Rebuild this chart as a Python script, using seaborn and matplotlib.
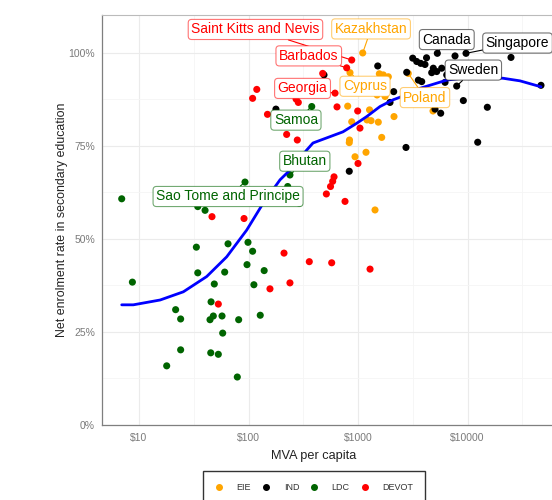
import numpy as np
import pandas as pd
import matplotlib
matplotlib.use("Agg")
import matplotlib.pyplot as plt
import seaborn as sns
from matplotlib.ticker import FixedLocator, FuncFormatter, PercentFormatter, NullFormatter
from matplotlib.lines import Line2D
from matplotlib.colors import to_rgba

# ---------------- data ----------------
groups = ["EIE", "IND", "LDC", "DEVOT"]
group_colors = ["#FFA500", "#000000", "#006400", "#FF0000"]

eie_mva = [1104, 845, 1566, 1702, 1892, 1766, 1492, 805, 1274, 876, 1208, 1315,
           1532, 2132, 1646, 836, 832, 1183, 939, 1430, 4840, 2878]
eie_enrol = [1.000, 0.947, 0.944, 0.941, 0.936, 0.883, 0.887, 0.857, 0.847, 0.815, 0.820, 0.818,
             0.814, 0.829, 0.773, 0.766, 0.759, 0.733, 0.721, 0.578, 0.844, 0.945]

ind_mva = [5300, 7690, 9690, 24950, 3160, 3436, 3740, 4090, 4225, 4870, 5230, 4710,
           5810, 2785, 3556, 3818, 6235, 7965, 9160, 15170, 5050, 5690, 12390, 2743,
           46900, 1514, 2118, 1960, 832, 489, 178, 6457]
ind_enrol = [0.999, 0.992, 0.999, 0.988, 0.986, 0.977, 0.972, 0.969, 0.987, 0.959, 0.950, 0.947,
             0.959, 0.948, 0.927, 0.923, 0.921, 0.911, 0.872, 0.854, 0.849, 0.838, 0.760, 0.746,
             0.913, 0.965, 0.896, 0.867, 0.682, 0.941, 0.849, 0.941]

ldc_mva = [6.95, 8.7, 92.9, 34.4, 40.1, 33.4, 65.0, 98.9, 109, 34.4, 60.6, 96.9,
           139, 48.7, 112, 45.5, 21.6, 24.0, 44.5, 47.7, 57.3, 81.3, 128, 58.1,
           24.0, 17.9, 45.2, 53.0, 79.0, 239, 228, 291, 378]
ldc_enrol = [0.608, 0.384, 0.653, 0.587, 0.577, 0.478, 0.487, 0.491, 0.467, 0.409, 0.411, 0.431,
             0.415, 0.379, 0.377, 0.331, 0.310, 0.285, 0.283, 0.293, 0.293, 0.283, 0.295, 0.247,
             0.202, 0.159, 0.194, 0.190, 0.129, 0.672, 0.641, 0.596, 0.856]

devot_mva = [876, 788, 476, 617, 119, 109, 272, 285, 149, 643, 993, 1042,
             223, 279, 1000, 604, 587, 561, 514, 761, 46.4, 91, 211, 359,
             575, 1288, 157, 239, 53]
devot_enrol = [0.981, 0.960, 0.945, 0.892, 0.902, 0.878, 0.876, 0.867, 0.835, 0.855, 0.844, 0.798,
               0.781, 0.766, 0.703, 0.667, 0.655, 0.641, 0.621, 0.601, 0.560, 0.555, 0.462, 0.439,
               0.436, 0.419, 0.366, 0.382, 0.325]

# smoothed trend
curve_mva = [6.95, 8.87, 15.6, 25.4, 41.5, 63.2, 96.3, 136, 194, 239, 340, 388,
             555, 729, 973, 1200, 1588, 2089, 2420, 3683, 6457, 10540, 21090, 30150, 46900]
curve_enrol = [0.323, 0.323, 0.336, 0.358, 0.399, 0.452, 0.524, 0.596, 0.659, 0.685, 0.739, 0.758,
               0.775, 0.788, 0.811, 0.829, 0.856, 0.874, 0.881, 0.905, 0.927, 0.935, 0.932, 0.925, 0.909]

label_country = ["Saint Kitts and Nevis", "Kazakhstan", "Canada", "Singapore", "Barbados",
                 "Sweden", "Georgia", "Cyprus", "Poland", "Samoa", "Bhutan",
                 "Sao Tome and Principe"]
label_group = ["DEVOT", "EIE", "IND", "IND", "DEVOT", "IND", "DEVOT", "EIE", "EIE",
               "LDC", "LDC", "LDC"]
label_mva = [876, 1104, 5300, 9690, 788, 7965, 617, 845, 2878, 378, 239, 92.9]
label_enrol = [0.981, 1.000, 0.999, 0.999, 0.960, 0.911, 0.892, 0.947, 0.945, 0.856, 0.672, 0.653]

x_tick_values = [10, 100, 1000, 10000]
y_tick_values = [0, 0.25, 0.5, 0.75, 1.0]

# ---------------- layout / style ----------------
label_offsets = [(-69.3, 22), (6, 17.3), (6.8, 9.9), (37.1, 7.4), (-27.3, 8.6),
                 (12, 11.5), (-23.4, 3.4), (10.8, -9.8), (12, -17.4), (-11.4, -9.8),
                 (10.7, 9.9), (-12.2, -10.4)]

df = pd.DataFrame({
    "mva": eie_mva + ind_mva + ldc_mva + devot_mva,
    "enrol": eie_enrol + ind_enrol + ldc_enrol + devot_enrol,
    "group": (["EIE"] * len(eie_mva) + ["IND"] * len(ind_mva)
              + ["LDC"] * len(ldc_mva) + ["DEVOT"] * len(devot_mva)),
})
cmap = dict(zip(groups, group_colors))

sns.set_theme(style="white")
plt.rcParams["font.family"] = ["Liberation Sans", "DejaVu Sans"]

fig = plt.figure(figsize=(5.52, 5.0), dpi=100)
ax = fig.add_axes([102 / 552, 75 / 500, 453 / 552, 410 / 500])
ax.set_xscale("log")

sns.scatterplot(data=df, x="mva", y="enrol", hue="group", hue_order=groups,
                palette=group_colors, s=26, linewidth=0, ax=ax, legend=False, zorder=3)
sns.lineplot(x=curve_mva, y=curve_enrol, color="#0000FF", lw=2, ax=ax,
             sort=False, estimator=None, zorder=4)

ax.set_xlim(10 ** 0.662, 10 ** 4.799)
ax.set_ylim(0, 1.102)

ax.xaxis.set_major_locator(FixedLocator(x_tick_values))
ax.xaxis.set_major_formatter(FuncFormatter(lambda v, p: f"${v:.0f}"))
ax.xaxis.set_minor_locator(FixedLocator([10 ** (k + 0.5) for k in range(0, 5)]))
ax.xaxis.set_minor_formatter(NullFormatter())
ax.yaxis.set_major_locator(FixedLocator(y_tick_values))
ax.yaxis.set_major_formatter(PercentFormatter(1.0, decimals=0))
ax.yaxis.set_minor_locator(FixedLocator([0.125, 0.375, 0.625, 0.875]))

ax.set_axisbelow(True)
ax.grid(which="major", color="#EBEBEB", lw=0.8)
ax.grid(which="minor", color="#F5F5F5", lw=0.6)

ax.tick_params(axis="both", which="major", length=3, width=0.8, color="#888888",
               labelcolor="#7A7A7A", labelsize=7.5, direction="out", pad=2)
ax.tick_params(axis="both", which="minor", length=0)
ax.tick_params(axis="x", which="major", pad=3)
for side in ["left", "bottom"]:
    ax.spines[side].set_color("#7F7F7F")
    ax.spines[side].set_linewidth(0.9)
ax.spines["top"].set_color("#BBBBBB")
ax.spines["top"].set_linewidth(0.8)
ax.spines["right"].set_visible(False)

ax.set_xlabel("MVA per capita", fontsize=9.2, color="#222222")
ax.set_ylabel("Net enrolment rate in secondary education", fontsize=8.9, color="#222222")
ax.xaxis.set_label_coords((313.5 - 102) / 453, -0.062)
ax.yaxis.set_label_coords(-(102 - 68) / 453, 0.5)

for name, grp, xv, yv, off in zip(label_country, label_group, label_mva, label_enrol, label_offsets):
    c = cmap[grp]
    ax.annotate(name, xy=(xv, yv), xytext=off, textcoords="offset points",
                ha="center", va="center", fontsize=10.0, color=c, zorder=6,
                annotation_clip=False,
                bbox=dict(boxstyle="round,pad=0.22,rounding_size=0.25", fc="white",
                          ec=to_rgba(c, 0.55), lw=0.8),
                arrowprops=dict(arrowstyle="-", color=c, lw=0.8, shrinkA=0, shrinkB=2))

handles = [Line2D([], [], marker="o", ls="", color=c, markersize=4) for c in group_colors]
leg = fig.legend(handles, groups, loc="center", bbox_to_anchor=(314 / 552, (500 - 487.7) / 500),
                 ncol=4, frameon=True, fontsize=6.5, borderpad=1.3, handletextpad=1.4,
                 columnspacing=1.2, handlelength=1.0, fancybox=False, edgecolor="#333333",
                 framealpha=1)
leg.get_frame().set_linewidth(1.0)
for t in leg.get_texts():
    t.set_color("#333333")

fig.savefig("out.png", dpi=100)
